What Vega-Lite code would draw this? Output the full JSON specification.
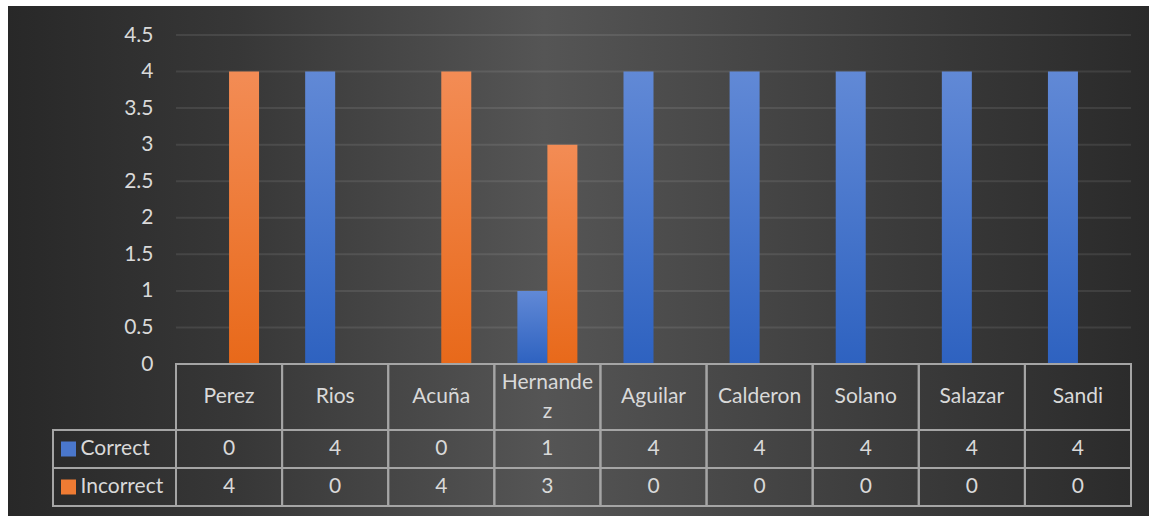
{
  "$schema": "https://vega.github.io/schema/vega-lite/v6.json",
  "width": 1141,
  "height": 510,
  "autosize": {"type": "none"},
  "padding": {"left": 8, "top": 6, "right": 0, "bottom": 0},
  "background": "#ffffff",
  "view": {
    "stroke": null,
    "fill": {
      "gradient": "linear",
      "x1": 0, "y1": 0, "x2": 1, "y2": 0,
      "stops": [
        {"offset": 0, "color": "#282828"},
        {"offset": 0.2, "color": "#373737"},
        {"offset": 0.47, "color": "#555555"},
        {"offset": 0.78, "color": "#3b3b3b"},
        {"offset": 1, "color": "#2a2a2a"}
      ]
    }
  },
  "config": {
    "font": "Lato",
    "text": {"font": "Lato", "fontSize": 21, "fill": "#d9d9d9"}
  },
  "datasets": {
    "scores": [
      {"name": "Perez", "series": "Correct", "value": 0},
      {"name": "Rios", "series": "Correct", "value": 4},
      {"name": "Acuña", "series": "Correct", "value": 0},
      {"name": "Hernandez", "series": "Correct", "value": 1},
      {"name": "Aguilar", "series": "Correct", "value": 4},
      {"name": "Calderon", "series": "Correct", "value": 4},
      {"name": "Solano", "series": "Correct", "value": 4},
      {"name": "Salazar", "series": "Correct", "value": 4},
      {"name": "Sandi", "series": "Correct", "value": 4},
      {"name": "Perez", "series": "Incorrect", "value": 4},
      {"name": "Rios", "series": "Incorrect", "value": 0},
      {"name": "Acuña", "series": "Incorrect", "value": 4},
      {"name": "Hernandez", "series": "Incorrect", "value": 3},
      {"name": "Aguilar", "series": "Incorrect", "value": 0},
      {"name": "Calderon", "series": "Incorrect", "value": 0},
      {"name": "Solano", "series": "Incorrect", "value": 0},
      {"name": "Salazar", "series": "Incorrect", "value": 0},
      {"name": "Sandi", "series": "Incorrect", "value": 0}
    ],
    "names": [
      {"name": "Perez", "label": "Perez", "lines": 1},
      {"name": "Rios", "label": "Rios", "lines": 1},
      {"name": "Acuña", "label": "Acuña", "lines": 1},
      {"name": "Hernandez", "label": "Hernande\nz", "lines": 2},
      {"name": "Aguilar", "label": "Aguilar", "lines": 1},
      {"name": "Calderon", "label": "Calderon", "lines": 1},
      {"name": "Solano", "label": "Solano", "lines": 1},
      {"name": "Salazar", "label": "Salazar", "lines": 1},
      {"name": "Sandi", "label": "Sandi", "lines": 1}
    ],
    "ticks": [
      {"v": 0.5}, {"v": 1}, {"v": 1.5}, {"v": 2}, {"v": 2.5},
      {"v": 3}, {"v": 3.5}, {"v": 4}, {"v": 4.5}
    ]
  },
  "resolve": {"scale": {"x": "independent", "y": "independent", "color": "independent", "xOffset": "independent"}},
  "layer": [
    {
      "data": {"name": "ticks"},
      "mark": {"type": "rule", "stroke": "#ffffff", "strokeOpacity": 0.09, "strokeWidth": 2},
      "encoding": {
        "x": {"datum": 0, "type": "quantitative", "scale": {"domain": [0, 9], "range": [168, 1123]}, "axis": null},
        "x2": {"datum": 9},
        "y": {"field": "v", "type": "quantitative", "scale": {"domain": [0, 4.5], "range": [358, 29], "nice": false}, "axis": null}
      }
    },
    {
      "data": {"name": "scores"},
      "transform": [{"filter": "datum.series === 'Correct'"}],
      "mark": {
        "type": "bar",
        "fill": {
          "gradient": "linear", "x1": 0, "y1": 0, "x2": 0, "y2": 1,
          "stops": [{"offset": 0, "color": "#6189d6"}, {"offset": 1, "color": "#2e62c0"}]
        }
      },
      "encoding": {
        "x": {"field": "name", "type": "nominal", "sort": null,
          "scale": {"domain": ["Perez", "Rios", "Acuña", "Hernandez", "Aguilar", "Calderon", "Solano", "Salazar", "Sandi"], "range": [168, 1123], "paddingInner": 0, "paddingOuter": 0},
          "axis": null},
        "xOffset": {"field": "series", "type": "nominal", "scale": {"domain": ["Correct", "Incorrect"], "paddingInner": 0, "paddingOuter": 0.7685}},
        "y": {"field": "value", "type": "quantitative",
          "scale": {"domain": [0, 4.5], "range": [358, 29], "nice": false},
          "axis": {
            "values": [0, 0.5, 1, 1.5, 2, 2.5, 3, 3.5, 4, 4.5],
            "offset": -168, "domain": false, "ticks": false, "grid": false,
            "labelPadding": 23, "labelFont": "Lato", "labelFontSize": 21, "labelColor": "#d9d9d9",
            "labelExpr": "datum.value", "title": null
          }
        }
      }
    },
    {
      "data": {"name": "scores"},
      "transform": [{"filter": "datum.series === 'Incorrect'"}],
      "mark": {
        "type": "bar",
        "fill": {
          "gradient": "linear", "x1": 0, "y1": 0, "x2": 0, "y2": 1,
          "stops": [{"offset": 0, "color": "#f38c55"}, {"offset": 1, "color": "#e8691a"}]
        }
      },
      "encoding": {
        "x": {"field": "name", "type": "nominal", "sort": null,
          "scale": {"domain": ["Perez", "Rios", "Acuña", "Hernandez", "Aguilar", "Calderon", "Solano", "Salazar", "Sandi"], "range": [168, 1123], "paddingInner": 0, "paddingOuter": 0},
          "axis": null},
        "xOffset": {"field": "series", "type": "nominal", "scale": {"domain": ["Correct", "Incorrect"], "paddingInner": 0, "paddingOuter": 0.7685}},
        "y": {"field": "value", "type": "quantitative", "scale": {"domain": [0, 4.5], "range": [358, 29], "nice": false}, "axis": null}
      }
    },
    {
      "data": {"name": "names"},
      "mark": {"type": "rect", "fill": "transparent", "stroke": "#a5a5a5", "strokeWidth": 2},
      "encoding": {
        "x": {"field": "name", "type": "nominal", "sort": null,
          "scale": {"domain": ["Perez", "Rios", "Acuña", "Hernandez", "Aguilar", "Calderon", "Solano", "Salazar", "Sandi"], "range": [168, 1123], "paddingInner": 0, "paddingOuter": 0},
          "axis": null},
        "y": {"datum": "header", "type": "nominal", "scale": {"domain": ["header"], "range": [358, 424], "paddingInner": 0, "paddingOuter": 0}, "axis": null}
      }
    },
    {
      "data": {"name": "names"},
      "transform": [{"filter": "datum.lines === 1"}],
      "mark": {"type": "text", "baseline": "middle", "align": "center", "fontSize": 21, "font": "Lato", "fill": "#d9d9d9"},
      "encoding": {
        "x": {"field": "name", "type": "nominal", "sort": null,
          "scale": {"domain": ["Perez", "Rios", "Acuña", "Hernandez", "Aguilar", "Calderon", "Solano", "Salazar", "Sandi"], "range": [168, 1123], "paddingInner": 0, "paddingOuter": 0},
          "axis": null},
        "y": {"datum": "header", "type": "nominal", "scale": {"domain": ["header"], "range": [358, 424], "paddingInner": 0, "paddingOuter": 0}, "axis": null},
        "text": {"field": "label", "type": "nominal"}
      }
    },
    {
      "data": {"name": "names"},
      "transform": [{"filter": "datum.lines === 2"}],
      "mark": {"type": "text", "lineBreak": "\n", "lineHeight": 29, "baseline": "middle", "align": "center", "dy": -14, "fontSize": 21, "font": "Lato", "fill": "#d9d9d9"},
      "encoding": {
        "x": {"field": "name", "type": "nominal", "sort": null,
          "scale": {"domain": ["Perez", "Rios", "Acuña", "Hernandez", "Aguilar", "Calderon", "Solano", "Salazar", "Sandi"], "range": [168, 1123], "paddingInner": 0, "paddingOuter": 0},
          "axis": null},
        "y": {"datum": "header", "type": "nominal", "scale": {"domain": ["header"], "range": [358, 424], "paddingInner": 0, "paddingOuter": 0}, "axis": null},
        "text": {"field": "label", "type": "nominal"}
      }
    },
    {
      "data": {"name": "scores"},
      "mark": {"type": "rect", "fill": "transparent", "stroke": "#a5a5a5", "strokeWidth": 2},
      "encoding": {
        "x": {"field": "name", "type": "nominal", "sort": null,
          "scale": {"domain": ["Perez", "Rios", "Acuña", "Hernandez", "Aguilar", "Calderon", "Solano", "Salazar", "Sandi"], "range": [168, 1123], "paddingInner": 0, "paddingOuter": 0},
          "axis": null},
        "y": {"field": "series", "type": "nominal", "scale": {"domain": ["Correct", "Incorrect"], "range": [424, 500], "paddingInner": 0, "paddingOuter": 0}, "axis": null}
      }
    },
    {
      "data": {"name": "scores"},
      "mark": {"type": "text", "baseline": "middle", "align": "center", "fontSize": 21, "font": "Lato", "fill": "#d9d9d9"},
      "encoding": {
        "x": {"field": "name", "type": "nominal", "sort": null,
          "scale": {"domain": ["Perez", "Rios", "Acuña", "Hernandez", "Aguilar", "Calderon", "Solano", "Salazar", "Sandi"], "range": [168, 1123], "paddingInner": 0, "paddingOuter": 0},
          "axis": null},
        "y": {"field": "series", "type": "nominal", "scale": {"domain": ["Correct", "Incorrect"], "range": [424, 500], "paddingInner": 0, "paddingOuter": 0}, "axis": null},
        "text": {"field": "value", "type": "quantitative"}
      }
    },
    {
      "data": {"name": "scores"},
      "transform": [{"aggregate": [{"op": "count", "as": "n"}], "groupby": ["series"]}],
      "mark": {"type": "rect", "fill": "transparent", "stroke": "#a5a5a5", "strokeWidth": 2},
      "encoding": {
        "x": {"datum": "label", "type": "nominal", "scale": {"domain": ["label"], "range": [45, 168], "paddingInner": 0, "paddingOuter": 0}, "axis": null},
        "y": {"field": "series", "type": "nominal", "scale": {"domain": ["Correct", "Incorrect"], "range": [424, 500], "paddingInner": 0, "paddingOuter": 0}, "axis": null}
      }
    },
    {
      "data": {"name": "scores"},
      "transform": [{"aggregate": [{"op": "count", "as": "n"}], "groupby": ["series"]}],
      "mark": {"type": "text", "baseline": "middle", "align": "left", "dx": -34, "fontSize": 21, "font": "Lato", "fill": "#d9d9d9"},
      "encoding": {
        "x": {"datum": "label", "type": "nominal", "scale": {"domain": ["label"], "range": [45, 168], "paddingInner": 0, "paddingOuter": 0}, "axis": null},
        "y": {"field": "series", "type": "nominal", "scale": {"domain": ["Correct", "Incorrect"], "range": [424, 500], "paddingInner": 0, "paddingOuter": 0}, "axis": null},
        "text": {"field": "series", "type": "nominal"}
      }
    },
    {
      "data": {"name": "scores"},
      "transform": [{"aggregate": [{"op": "count", "as": "n"}], "groupby": ["series"]}],
      "mark": {"type": "point", "shape": "square", "filled": true, "opacity": 1, "size": 225, "xOffset": -46},
      "encoding": {
        "x": {"datum": "label", "type": "nominal", "scale": {"domain": ["label"], "range": [45, 168], "paddingInner": 0, "paddingOuter": 0}, "axis": null},
        "y": {"field": "series", "type": "nominal", "scale": {"domain": ["Correct", "Incorrect"], "range": [424, 500], "paddingInner": 0, "paddingOuter": 0}, "axis": null},
        "color": {"field": "series", "type": "nominal", "scale": {"domain": ["Correct", "Incorrect"], "range": ["#4a77cc", "#ef7b33"]}, "legend": null}
      }
    }
  ]
}
